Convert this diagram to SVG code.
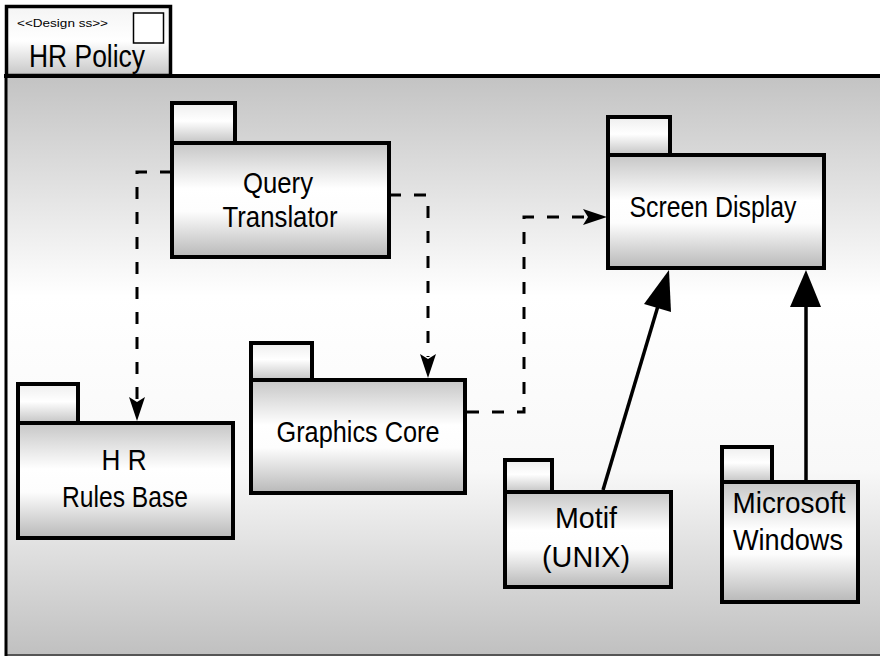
<svg xmlns="http://www.w3.org/2000/svg" width="880" height="657" viewBox="0 0 880 657">
  <defs>
    <linearGradient id="bg" x1="0" y1="0" x2="0" y2="1">
      <stop offset="0" stop-color="#c3c3c3"/>
      <stop offset="0.38" stop-color="#ffffff"/>
      <stop offset="0.68" stop-color="#f8f8f8"/>
      <stop offset="1" stop-color="#c0c0c0"/>
    </linearGradient>
    <linearGradient id="bodyGrad" x1="0" y1="0" x2="0" y2="1">
      <stop offset="0" stop-color="#c6c6c6"/>
      <stop offset="0.4" stop-color="#ffffff"/>
      <stop offset="0.6" stop-color="#fdfdfd"/>
      <stop offset="1" stop-color="#b8b8b8"/>
    </linearGradient>
    <linearGradient id="tabGrad" x1="0" y1="0" x2="0" y2="1">
      <stop offset="0" stop-color="#eeeeee"/>
      <stop offset="0.45" stop-color="#ffffff"/>
      <stop offset="1" stop-color="#c4c4c4"/>
    </linearGradient>
    <linearGradient id="frameTab" x1="0" y1="0" x2="0" y2="1">
      <stop offset="0" stop-color="#f4f4f4"/>
      <stop offset="0.5" stop-color="#ffffff"/>
      <stop offset="1" stop-color="#c6c6c6"/>
    </linearGradient>
  </defs>
  <style>
    .body { fill: url(#bodyGrad); stroke: #000; stroke-width: 4; }
    .tab { fill: url(#tabGrad); stroke: #000; stroke-width: 4; }
    .label { font-family: "Liberation Sans", Arial, sans-serif; font-size: 30px; fill: #000; text-anchor: middle; }
    .dash { fill: none; stroke: #000; stroke-width: 3; stroke-dasharray: 12 13; }
    .solid { fill: none; stroke: #000; stroke-width: 3.5; }
    .head { fill: #000; stroke: none; }
  </style>

  <g id="frame">
    <rect x="5.5" y="76" width="900" height="579" fill="url(#bg)" stroke="none"/>
    <line x1="5" y1="655" x2="880" y2="655" stroke="#555" stroke-width="2"/>
    <line x1="6" y1="76" x2="6" y2="656" stroke="#000" stroke-width="3"/>
    <line x1="4" y1="76" x2="880" y2="76" stroke="#000" stroke-width="4"/>
    <rect x="6.5" y="6.5" width="164" height="69" fill="url(#frameTab)" stroke="#000" stroke-width="3.5"/>
    <rect x="133.5" y="13" width="30" height="30" fill="#fff" stroke="#000" stroke-width="1.5"/>
    <text x="17" y="27" font-family="Liberation Sans, Arial, sans-serif" font-size="11" textLength="91" lengthAdjust="spacingAndGlyphs">&lt;&lt;Design ss&gt;&gt;</text>
    <text x="29" y="67" font-family="Liberation Sans, Arial, sans-serif" font-size="31" textLength="116" lengthAdjust="spacingAndGlyphs">HR Policy</text>
  </g>

  <g id="connectors">
    <polyline class="dash" points="172,172 137,172 137,400"/>
    <path class="head" d="M137,421 L129,397 L137,402 L145,397 Z"/>
    <polyline class="dash" points="389,195 428,195 428,357"/>
    <path class="head" d="M428,378 L420,354 L428,359 L436,354 Z"/>
    <polyline class="dash" points="467,412 524,412 524,217 586,217"/>
    <path class="head" d="M607,217 L583,209 L588,217 L583,225 Z"/>
    <line class="solid" x1="603" y1="490" x2="658" y2="306"/>
    <path class="head" d="M669,270 L644,304 L671,312 Z"/>
    <line class="solid" x1="806" y1="482" x2="806" y2="305"/>
    <path class="head" d="M806,270 L790,307 L821,307 Z"/>
  </g>

  <g id="query-translator">
    <rect class="tab" x="172" y="103" width="63" height="40"/>
    <rect class="body" x="172" y="143" width="217" height="114"/>
    <text class="label" x="278" y="193" textLength="70" lengthAdjust="spacingAndGlyphs">Query</text>
    <text class="label" x="280" y="227" textLength="115" lengthAdjust="spacingAndGlyphs">Translator</text>
  </g>

  <g id="screen-display">
    <rect class="tab" x="608" y="117" width="62" height="38"/>
    <rect class="body" x="608" y="155" width="216" height="113"/>
    <text class="label" x="713" y="217" textLength="167" lengthAdjust="spacingAndGlyphs">Screen Display</text>
  </g>

  <g id="hr-rules-base">
    <rect class="tab" x="18" y="384" width="60" height="39"/>
    <rect class="body" x="18" y="423" width="215" height="115"/>
    <text class="label" x="124" y="470" textLength="45" lengthAdjust="spacingAndGlyphs">H R</text>
    <text class="label" x="125" y="507" textLength="126" lengthAdjust="spacingAndGlyphs">Rules Base</text>
  </g>

  <g id="graphics-core">
    <rect class="tab" x="251" y="343" width="61" height="37"/>
    <rect class="body" x="251" y="380" width="214" height="113"/>
    <text class="label" x="358" y="442" textLength="163" lengthAdjust="spacingAndGlyphs">Graphics Core</text>
  </g>

  <g id="motif-unix">
    <rect class="tab" x="505" y="460" width="47" height="32"/>
    <rect class="body" x="505" y="492" width="166" height="95"/>
    <text class="label" x="586" y="528" textLength="62" lengthAdjust="spacingAndGlyphs">Motif</text>
    <text class="label" x="586" y="567" textLength="88" lengthAdjust="spacingAndGlyphs">(UNIX)</text>
  </g>

  <g id="microsoft-windows">
    <rect class="tab" x="722" y="447" width="50" height="35"/>
    <rect class="body" x="722" y="482" width="136" height="120"/>
    <text class="label" x="789" y="513" textLength="113" lengthAdjust="spacingAndGlyphs">Microsoft</text>
    <text class="label" x="788" y="550" textLength="110" lengthAdjust="spacingAndGlyphs">Windows</text>
  </g>
</svg>
